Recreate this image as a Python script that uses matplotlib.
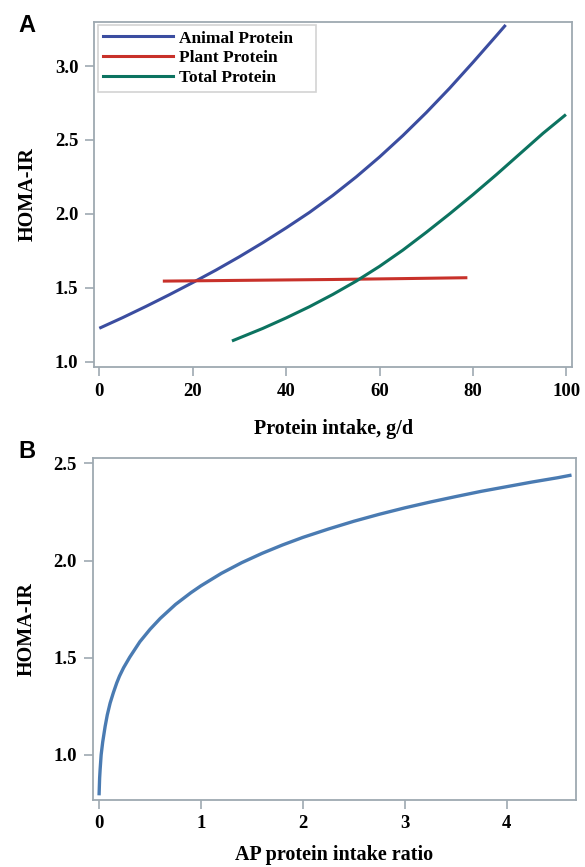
import matplotlib
matplotlib.use("Agg")
import matplotlib.pyplot as plt
from matplotlib.lines import Line2D

# ---- Panel A data ----
animal_x = [0, 5, 10, 15, 20, 25, 30, 35, 40, 45, 50, 55, 60, 65, 70, 75, 80, 85, 87]
animal_y = [1.226, 1.298, 1.374, 1.453, 1.535, 1.62, 1.71, 1.805, 1.905, 2.01, 2.125,
            2.25, 2.385, 2.53, 2.685, 2.85, 3.025, 3.205, 3.278]

plant_x = [13.6, 30, 50, 65, 78.8]
plant_y = [1.545, 1.55, 1.556, 1.562, 1.568]

total_x = [28.4, 35, 40, 45, 50, 55, 60, 65, 70, 75, 80, 85, 90, 95, 99.9]
total_y = [1.14, 1.225, 1.296, 1.372, 1.455, 1.545, 1.645, 1.755, 1.875, 2.0, 2.13,
           2.265, 2.405, 2.545, 2.672]

# ---- Panel B data ----
ratio_x = [0.0, 0.005, 0.01, 0.02, 0.035, 0.059, 0.08, 0.108, 0.14, 0.173, 0.2, 0.24, 0.3,
           0.4, 0.5, 0.6, 0.75, 0.9, 1.0, 1.2, 1.4, 1.6, 1.8, 2.0, 2.25, 2.5, 2.75, 3.0,
           3.25, 3.5, 3.75, 4.0, 4.25, 4.5, 4.62]
homa_b = [0.80, 0.88, 0.925, 1.0, 1.065, 1.146, 1.205, 1.266, 1.32, 1.37, 1.405, 1.448, 1.502,
          1.582, 1.646, 1.702, 1.774, 1.834, 1.87, 1.934, 1.989, 2.037, 2.08, 2.119, 2.162,
          2.202, 2.238, 2.271, 2.301, 2.329, 2.356, 2.38, 2.404, 2.426, 2.438]

xticks_a = [0, 20, 40, 60, 80, 100]
yticks_a = [1.0, 1.5, 2.0, 2.5, 3.0]
xticks_b = [0, 1, 2, 3, 4]
yticks_b = [1.0, 1.5, 2.0, 2.5]

labels_a = ["Animal Protein", "Plant Protein", "Total Protein"]
colors_a = ["#3b4da0", "#c8312a", "#0c7360"]
color_b = "#4a7bb2"
spine_c = "#9ea9b1"

serif = ["Liberation Serif", "DejaVu Serif"]
W, H = 585, 867
fig = plt.figure(figsize=(W / 100, H / 100), dpi=100)

def setup(ax):
    for s in ax.spines.values():
        s.set_color(spine_c)
        s.set_linewidth(1.3)
    ax.tick_params(direction="out", length=6.5, width=1.2, color=spine_c, pad=5,
                   labelsize=13.5)
    for lab in ax.get_xticklabels() + ax.get_yticklabels():
        lab.set_fontfamily(serif)
        lab.set_fontweight("bold")

# Panel A
axA = fig.add_axes([94.3 / W, 1 - 366.7 / H, (572 - 94.3) / W, (366.7 - 21.7) / H])
axA.plot(animal_x, animal_y, color=colors_a[0], lw=2.2, solid_capstyle="butt")
axA.plot(plant_x, plant_y, color=colors_a[1], lw=2.2, solid_capstyle="butt")
axA.plot(total_x, total_y, color=colors_a[2], lw=2.2, solid_capstyle="butt")
axA.set_xlim(-1.07, 101.2)
axA.set_ylim(0.966, 3.30)
axA.set_xticks(xticks_a)
axA.set_yticks(yticks_a)
axA.set_yticklabels([f"{v:.1f}" for v in yticks_a])
setup(axA)
axA.set_xlabel("Protein intake, g/d", fontfamily=serif, fontweight="bold", fontsize=14.5, labelpad=14)
axA.set_ylabel("HOMA-IR", fontfamily=serif, fontweight="bold", fontsize=14.5, labelpad=12)
handles = [Line2D([], [], color=c, lw=2.2) for c in colors_a]
leg = axA.legend(handles, labels_a, loc="upper left",
                 bbox_to_anchor=(0.0077, 0.5, 0.456, 0.49), mode="expand",
                 prop={"family": serif, "weight": "bold", "size": 12.5},
                 frameon=True, fancybox=False, handlelength=4.0, handletextpad=0.35,
                 borderpad=0.3, labelspacing=0.22, borderaxespad=0.0)
leg.get_frame().set_edgecolor("#c8c8c8")
leg.get_frame().set_linewidth(1.2)

# Panel B
axB = fig.add_axes([93 / W, 1 - 799.5 / H, (576 - 93) / W, (799.5 - 458.3) / H])
axB.plot(ratio_x, homa_b, color=color_b, lw=2.4)
axB.set_xlim(-0.06, 4.68)
axB.set_ylim(0.77, 2.526)
axB.set_xticks(xticks_b)
axB.set_yticks(yticks_b)
axB.set_yticklabels([f"{v:.1f}" for v in yticks_b])
setup(axB)
axB.set_xlabel("AP protein intake ratio", fontfamily=serif, fontweight="bold", fontsize=14.5, labelpad=9)
axB.set_ylabel("HOMA-IR", fontfamily=serif, fontweight="bold", fontsize=14.5, labelpad=12)

fig.text(18 / W, 1 - 32 / H, "A", fontfamily="Liberation Sans", fontweight="bold", fontsize=17)
fig.text(18 / W, 1 - 458 / H, "B", fontfamily="Liberation Sans", fontweight="bold", fontsize=17)

fig.savefig("out.png", dpi=100, facecolor="white")
